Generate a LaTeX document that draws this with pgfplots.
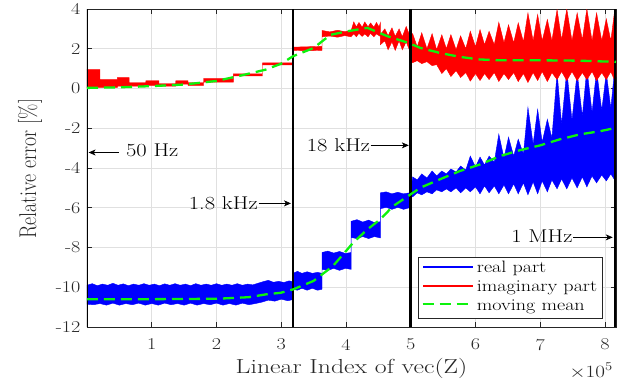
\documentclass[border=0pt]{standalone}
\usepackage{pgfplots}
\pgfplotsset{compat=1.18}
\usepackage{graphicx}
\usetikzlibrary{arrows.meta}
\newcommand{\sx}[1]{\scalebox{1.22}[1]{#1}}
\definecolor{mgreen}{rgb}{0.05,0.95,0.05}
\definecolor{mblue}{rgb}{0,0,1}
\definecolor{mred}{rgb}{1,0,0}
\definecolor{axgray}{rgb}{0.15,0.15,0.15}
\definecolor{gridgray}{rgb}{0.88,0.88,0.88}
\begin{document}
\begin{tikzpicture}
\begin{axis}[
  scale only axis, width=529pt, height=318pt,
  xmin=0, xmax=817000, ymin=-12, ymax=4,
  clip mode=individual,
  xtick={100000,200000,300000,400000,500000,600000,700000,800000},
  xticklabels={\sx{1},\sx{2},\sx{3},\sx{4},\sx{5},\sx{6},\sx{7},\sx{8}},
  ytick={-12,-10,-8,-6,-4,-2,0,2,4},
  yticklabels={\sx{-12},\sx{-10},\sx{-8},\sx{-6},\sx{-4},\sx{-2},\sx{0},\sx{2},\sx{4}},
  scaled x ticks=false,
  tick align=inside,
  major tick length=5pt,
  grid=major,
  major grid style={gridgray, line width=0.6pt},
  axis line style={axgray, line width=0.6pt},
  tick style={axgray, line width=0.6pt},
  ticklabel style={font=\fontsize{16.5}{19}\selectfont, text=axgray},
  xticklabel style={yshift=-8.5pt},
  yticklabel style={xshift=-3pt},
  xlabel={\scalebox{1.27}[1]{Linear Index of vec(Z)}},
  xlabel style={font=\fontsize{20.3}{23}\selectfont, text=axgray, at={(rel axis cs:0.5,-0.1447)}, anchor=base},
  ylabel={\scalebox{1}[1.22]{Relative error [\%]}},
  ylabel style={font=\fontsize{19.8}{22}\selectfont, text=axgray, at={(rel axis cs:-0.1078,0.497)}, anchor=center},
  legend style={at={(rel axis cs:0.9754,0.028)}, anchor=south east, draw=axgray, line width=0.5pt, fill=white,
    font=\fontsize{16.5}{18}\selectfont, inner xsep=3.5pt, inner ysep=2pt, row sep=0pt, column sep=2pt,
    nodes={inner sep=2pt, text height=11.5pt, text depth=3.5pt}, cells={anchor=west}},
]
\coordinate (SW) at (rel axis cs:0,0);
\coordinate (SE) at (rel axis cs:1,0);

% real part (blue band): upper envelope left->right, lower envelope right->left
\addplot[fill=mblue, draw=mblue, line width=0.4pt,
  legend image code/.code={\fill[mblue] (0pt,1.55pt) rectangle (49pt,2.45pt);}] coordinates {
(0,-9.9) (8000,-9.82) (16000,-9.92) (24000,-9.84) (32000,-9.9) (40000,-9.8) (48000,-9.9) (56000,-9.83) (64000,-9.92) (72000,-9.84) (80000,-9.9) (88000,-9.82) (96000,-9.9) (104000,-9.84) (112000,-9.92) (120000,-9.83) (128000,-9.9) (136000,-9.82) (144000,-9.9) (152000,-9.84) (160000,-9.92) (168000,-9.82) (176000,-9.9) (184000,-9.84) (192000,-9.9) (200000,-9.82) (208000,-9.9) (216000,-9.84) (224000,-9.9) (232000,-9.82) (240000,-9.9) (248000,-9.84) (256000,-9.88) (264000,-9.8) (272000,-9.72) (280000,-9.65) (288000,-9.75) (296000,-9.7) (304000,-9.76) (312000,-9.68) (318000,-9.72)
(318000,-9.3) (325000,-9.2) (332000,-9.3) (340000,-9.22) (348000,-9.3) (356000,-9.25) (363000,-9.3)
(363000,-8.25) (372000,-8.18) (381000,-8.28) (390000,-8.2) (399000,-8.3) (408000,-8.25)
(408000,-6.68) (417000,-6.6) (426000,-6.72) (435000,-6.62) (444000,-6.75) (453000,-6.7)
(453000,-5.25) (462000,-5.2) (471000,-5.3) (480000,-5.22) (489000,-5.3) (498000,-5.25) (500000,-5.2)
(503000,-4.45) (510000,-4.6) (517000,-4.3) (525000,-4.5) (533000,-4.15) (540000,-4.4) (548000,-4.15) (555000,-4.3) (562000,-4.05) (570000,-4.2) (577000,-3.9) (585000,-4.1) (592000,-3.4) (600000,-3.95) (607000,-3.45) (614000,-3.85) (621000,-3.4) (629000,-3.7) (636000,-2.3) (644000,-3.5) (651000,-2.45) (659000,-3.4) (666000,-2.55) (674000,-3.3) (681000,-0.95) (689000,-2.8) (696000,-1.05) (703000,-2.7) (711000,-1.55) (718000,-2.5) (726000,0.8) (733000,-1.8) (741000,0.9) (749000,-1.6) (757000,0.8) (765000,-1.4) (772000,1.0) (780000,-1.2) (787000,0.9) (795000,-1.1) (802000,0.8) (809000,-1.0) (815000,1.0) (817000,-0.9)
(817000,-4.3) (815000,-4.6) (809000,-4.3) (802000,-4.65) (795000,-4.35) (787000,-4.75) (780000,-4.4) (772000,-4.95) (765000,-4.45) (757000,-5.0) (749000,-4.5) (741000,-5.05) (733000,-4.55) (726000,-5.05) (718000,-4.6) (711000,-5.2) (703000,-4.65) (696000,-5.3) (689000,-4.7) (681000,-5.35) (674000,-4.75) (666000,-5.3) (659000,-4.8) (651000,-5.3) (644000,-4.85) (636000,-5.3) (629000,-4.9) (621000,-5.25) (614000,-4.9) (607000,-5.3) (600000,-4.95) (592000,-5.2) (585000,-5.0) (577000,-5.25) (570000,-5.0) (562000,-5.2) (555000,-5.05) (548000,-5.2) (540000,-5.1) (533000,-5.3) (525000,-5.2) (517000,-5.35) (510000,-5.25) (503000,-5.45) (500000,-5.4)
(500000,-6.0) (498000,-6.0) (489000,-6.08) (480000,-5.98) (471000,-6.08) (462000,-5.98) (453000,-6.05)
(453000,-7.52) (444000,-7.45) (435000,-7.55) (426000,-7.45) (417000,-7.55) (408000,-7.5)
(408000,-9.1) (399000,-9.05) (390000,-9.15) (381000,-9.05) (372000,-9.15) (363000,-9.1)
(363000,-10.1) (356000,-10.15) (348000,-10.05) (340000,-10.15) (332000,-10.05) (325000,-10.15) (318000,-10.1)
(318000,-10.62) (310000,-10.68) (300000,-10.6) (290000,-10.7) (280000,-10.65) (270000,-10.75) (260000,-10.82) (250000,-10.88) (240000,-10.8) (230000,-10.9) (220000,-10.82) (210000,-10.9) (200000,-10.8) (190000,-10.88) (180000,-10.82) (170000,-10.9) (160000,-10.8) (150000,-10.9) (140000,-10.82) (130000,-10.88) (120000,-10.8) (110000,-10.9) (100000,-10.82) (90000,-10.9) (80000,-10.8) (70000,-10.88) (60000,-10.82) (50000,-10.9) (40000,-10.8) (30000,-10.9) (20000,-10.82) (10000,-10.88) (0,-10.85)
};
\addlegendentry{\sx{real part}}

% imaginary part (red band)
\addplot[fill=mred, draw=mred, line width=0.4pt,
  legend image code/.code={\fill[mred] (0pt,1.55pt) rectangle (49pt,2.45pt);}] coordinates {
(0,0.95) (20000,0.95) (20000,0.45) (47000,0.45) (47000,0.55) (65000,0.55) (65000,0.29) (91000,0.29) (91000,0.39) (111000,0.39) (111000,0.25) (137000,0.25) (137000,0.39) (156000,0.39) (156000,0.29) (180000,0.29) (180000,0.5) (226000,0.5) (226000,0.74) (271000,0.74) (271000,1.29) (318000,1.29)
(318000,2.08) (340000,2.1) (363000,2.12)
(363000,2.92) (375000,2.85) (387000,2.93) (398000,2.86) (408000,2.92)
(412000,3.35) (416000,3.1) (420000,3.32) (425000,3.08) (429000,3.35) (434000,3.1) (438000,3.3) (443000,3.08) (447000,3.32) (451000,3.1) (453000,3.3)
(453000,2.7) (460000,3.0) (465000,2.65) (471000,3.05) (476000,2.62) (482000,3.0) (487000,2.6) (493000,3.12) (498000,2.7) (500000,2.8)
(503000,2.75) (510000,2.1) (517000,2.8) (525000,2.0) (533000,2.76) (540000,1.95) (548000,2.7) (555000,2.0) (562000,2.71) (570000,1.95) (577000,2.65) (585000,2.0) (592000,2.88) (600000,2.1) (607000,2.96) (614000,2.2) (621000,2.88) (629000,2.2) (636000,3.33) (644000,2.3) (651000,3.2) (659000,2.3) (666000,3.3) (674000,2.35) (681000,3.8) (689000,2.4) (696000,3.72) (703000,2.4) (711000,3.47) (718000,2.4) (726000,3.97) (733000,2.45) (741000,4.0) (749000,2.4) (757000,3.8) (765000,2.45) (772000,4.0) (780000,2.4) (787000,3.8) (795000,2.4) (802000,3.5) (809000,2.4) (815000,3.95) (817000,3.0)
(817000,0.6) (815000,0.4) (809000,0.85) (802000,0.45) (795000,0.8) (787000,0.4) (780000,0.85) (772000,0.45) (765000,0.8) (757000,0.4) (749000,0.85) (741000,0.4) (733000,0.85) (726000,0.45) (718000,0.8) (711000,0.35) (703000,0.85) (696000,0.4) (689000,0.8) (681000,0.3) (674000,0.75) (666000,0.35) (659000,0.8) (651000,0.45) (644000,0.75) (636000,0.35) (629000,0.8) (621000,0.45) (614000,0.75) (607000,0.4) (600000,0.75) (592000,0.37) (585000,0.8) (577000,0.55) (570000,0.9) (562000,0.6) (555000,1.0) (548000,0.75) (540000,1.2) (533000,1.15) (525000,1.35) (517000,1.25) (510000,1.4) (503000,1.3) (500000,1.35)
(498000,1.93) (493000,2.35) (487000,1.95) (482000,2.4) (476000,1.92) (471000,2.35) (465000,1.95) (460000,2.4) (453000,2.2)
(453000,2.62) (447000,2.75) (443000,2.6) (438000,2.78) (434000,2.6) (429000,2.75) (425000,2.62) (420000,2.78) (416000,2.6) (412000,2.75) (408000,2.62)
(408000,2.6) (398000,2.66) (387000,2.58) (375000,2.64) (363000,2.6)
(363000,1.92) (340000,1.9) (318000,1.92)
(318000,1.19) (271000,1.19) (271000,0.63) (226000,0.63) (226000,0.32) (180000,0.32) (180000,0.15) (156000,0.15) (156000,0.22) (137000,0.22) (137000,0.12) (111000,0.12) (111000,0.15) (91000,0.15) (91000,0.12) (47000,0.12) (47000,0.05) (0,0.05)
};
\addlegendentry{\sx{imaginary part}}

% frequency boundaries
\addplot[forget plot, black, line width=2.8pt] coordinates {(1,-12) (1,4)};
\addplot[forget plot, black, line width=2.8pt] coordinates {(318000,-12) (318000,4)};
\addplot[forget plot, black, line width=2.8pt] coordinates {(500000,-12) (500000,4)};
\addplot[forget plot, black, line width=2.8pt] coordinates {(816000,-12) (816000,4)};

% moving means
\addplot[mgreen, line width=2.3pt, dash pattern=on 11pt off 6pt,
  legend image code/.code={\draw[mgreen, line width=2.3pt, dash pattern=on 11pt off 6pt] (0pt,2pt) -- (49pt,2pt);}] coordinates {
(0,0.03) (50000,0.06) (100000,0.12) (150000,0.2) (200000,0.38) (240000,0.67) (276000,0.95) (300000,1.25) (318000,1.62) (350000,2.04) (376000,2.7) (402000,2.88) (433000,3.05) (464000,2.63) (496000,2.3) (515000,2.04) (545000,1.79) (576000,1.59) (607000,1.46) (638000,1.42) (700000,1.42) (760000,1.4) (817000,1.34)
};
\addlegendentry{\sx{moving mean}}
\addplot[forget plot, mgreen, line width=2.3pt, dash pattern=on 11pt off 6pt] coordinates {
(0,-10.6) (100000,-10.6) (200000,-10.58) (250000,-10.5) (278000,-10.35) (299000,-10.28) (319000,-10.1) (350000,-9.68) (380000,-8.93) (411000,-7.76) (433000,-7.09) (453000,-6.58) (473000,-5.91) (496000,-5.41) (515000,-4.99) (545000,-4.57) (576000,-4.15) (607000,-3.82) (638000,-3.4) (669000,-3.1) (700000,-2.86) (730000,-2.56) (761000,-2.31) (792000,-2.15) (817000,-1.98)
};

% annotations
\draw[-{Stealth[length=7pt,width=6pt,inset=2pt]}, line width=0.7pt] (axis cs:49000,-3.22) -- (axis cs:2500,-3.22);
\node[anchor=base west, inner sep=0pt, font=\fontsize{18.5}{20}\selectfont] at (axis cs:60000,-3.43) {\sx{50 Hz}};
\draw[-{Stealth[length=7pt,width=6pt,inset=2pt]}, line width=0.7pt] (axis cs:265000,-5.78) -- (axis cs:315000,-5.78);
\node[anchor=base east, inner sep=0pt, font=\fontsize{18.5}{20}\selectfont] at (axis cs:264000,-6.08) {\sx{1.8 kHz}};
\draw[-{Stealth[length=7pt,width=6pt,inset=2pt]}, line width=0.7pt] (axis cs:438000,-2.86) -- (axis cs:497000,-2.86);
\node[anchor=base east, inner sep=0pt, font=\fontsize{18.5}{20}\selectfont] at (axis cs:437500,-3.15) {\sx{18 kHz}};
\draw[-{Stealth[length=7pt,width=6pt,inset=2pt]}, line width=0.7pt] (axis cs:751000,-7.49) -- (axis cs:812000,-7.49);
\node[anchor=base east, inner sep=0pt, font=\fontsize{18.5}{20}\selectfont] at (axis cs:750000,-7.75) {\sx{1 MHz}};
\end{axis}
\node[anchor=base east, inner sep=0pt, font=\fontsize{16.5}{18}\selectfont, text=axgray] at ([shift={(-3pt,-50pt)}]SE) {\sx{$\times10^{5}$}};
\pgfresetboundingbox
\path[use as bounding box] ([shift={(-87pt,-59pt)}]SW) rectangle ([shift={(542pt,327pt)}]SW);
\end{tikzpicture}
\end{document}
